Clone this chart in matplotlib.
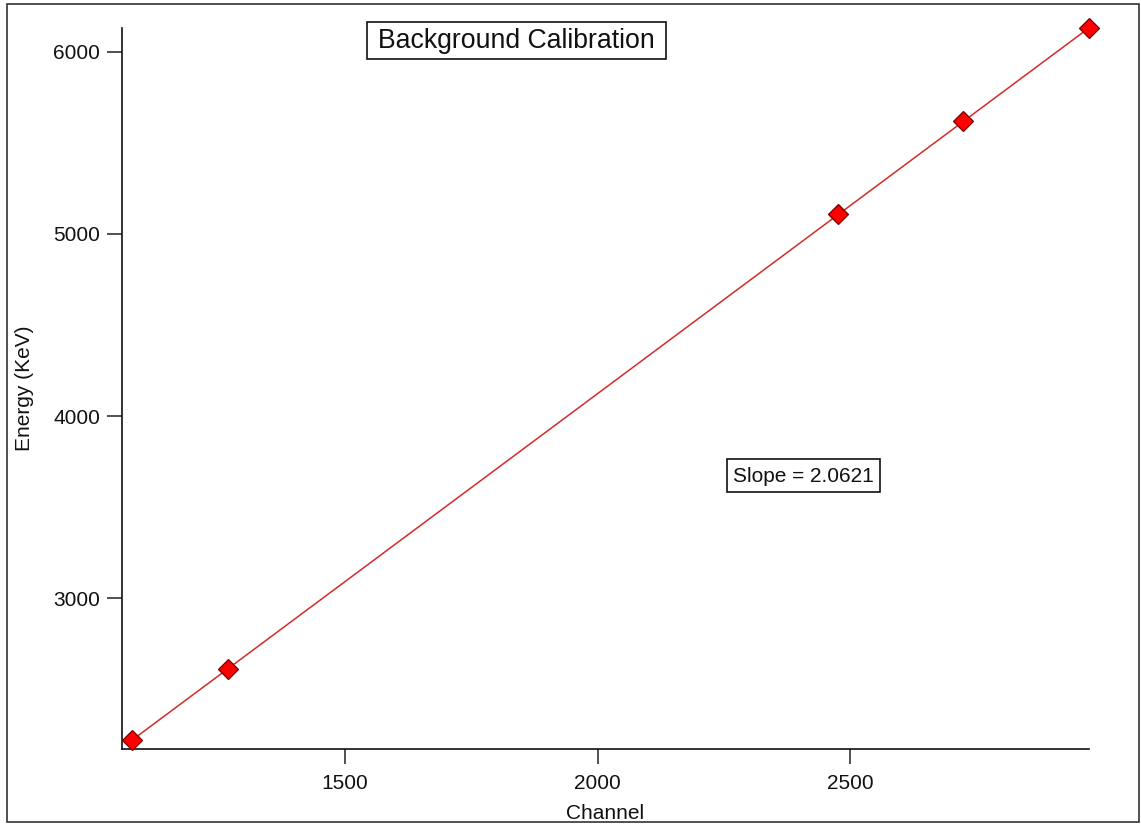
import matplotlib
matplotlib.use("Agg")
import matplotlib.pyplot as plt
from matplotlib.patches import Rectangle
import numpy as np

plt.rcParams['font.family'] = ['Liberation Sans', 'DejaVu Sans']

# Background gamma lines used for the calibration
channels = [1078.0, 1267.6, 2476.6, 2724.4, 2972.2]
energies = [2223, 2614, 5107, 5618, 6129]
slope = 2.0621

x_ticks = [1500, 2000, 2500]
y_ticks = [3000, 4000, 5000, 6000]

W, H = 1141, 824
fig = plt.figure(figsize=(W / 100, H / 100), dpi=100)
ax = fig.add_axes([122 / W, 1 - 749 / H, (1089 - 122) / W, (749 - 28) / H])

ch = np.array(channels, dtype=float)
en = np.array(energies, dtype=float)
intercept = np.mean(en - slope * ch)
fit_x = np.array([ch.min(), ch.max()])
ax.plot(fit_x, slope * fit_x + intercept, color='#d42a2a', lw=1.1, zorder=2)
ax.plot(ch, en, linestyle='none', marker='D', markersize=10.2,
        markerfacecolor='#ff0000', markeredgecolor='#7a0000', markeredgewidth=0.9,
        clip_on=False, zorder=3)

ax.set_xlim(1058, 2973)
ax.set_ylim(2174, 6130)
ax.set_xticks(x_ticks)
ax.set_yticks(y_ticks)
for s in ('top', 'right'):
    ax.spines[s].set_visible(False)
for s in ('left', 'bottom'):
    ax.spines[s].set_linewidth(1.2)
    ax.spines[s].set_color('#111111')
ax.tick_params(axis='both', direction='out', length=10.8, width=1.1,
               color='#222222', labelsize=15, labelcolor='#111111')
ax.tick_params(axis='x', pad=7)
ax.tick_params(axis='y', pad=5)

ax.set_xlabel('Channel', fontsize=15, color='#111111', labelpad=8)
ax.set_ylabel('Energy (KeV)', fontsize=15, color='#111111', labelpad=14)


def boxed_text(x0, y0, x1, y1, text, size):
    """Text centred in a rectangle given in pixel coordinates (top-left origin)."""
    fig.patches.append(Rectangle((x0 / W, 1 - y1 / H), (x1 - x0) / W, (y1 - y0) / H,
                                 transform=fig.transFigure, facecolor='white',
                                 edgecolor='#111111', linewidth=1.2, zorder=5))
    fig.text((x0 + x1) / 2 / W, 1 - ((y0 + y1) / 2 + 0.5) / H, text, fontsize=size,
             ha='center', va='center', color='#111111', zorder=6)


boxed_text(367, 22, 666, 59, 'Background Calibration', 19.2)
boxed_text(727, 459, 880, 492, 'Slope = 2.0621', 15)

# Outer frame around the whole graphic
fig.patches.append(Rectangle((7 / W, 1 - 822 / H), (1139 - 7) / W, (822 - 4) / H,
                             transform=fig.transFigure, fill=False,
                             edgecolor='#333333', linewidth=1.2))

fig.savefig('out.png', dpi=100, facecolor='white')
